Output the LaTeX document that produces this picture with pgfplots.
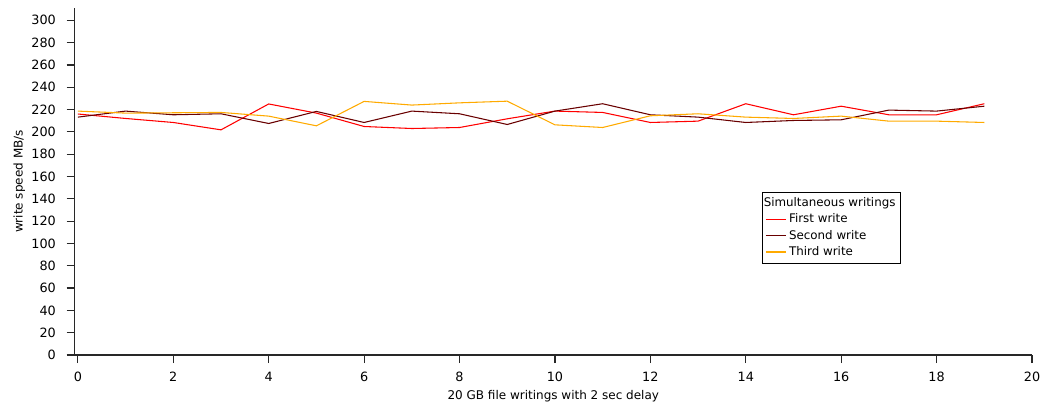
\documentclass[border=0pt]{standalone}
\usepackage{pgfplots}
\pgfplotsset{compat=1.18}
\usepackage{fontspec}
\setmainfont{DejaVu Sans}
\usetikzlibrary{calc}

\definecolor{firstw}{RGB}{255,0,0}
\definecolor{secondw}{RGB}{105,0,0}
\definecolor{thirdw}{RGB}{255,170,0}
\definecolor{axisgray}{RGB}{40,40,40}

\pgfplotstableread{
x first second third
0  216.0 213.2 218.6
1  212.0 218.6 216.8
2  208.4 215.3 217.1
3  201.8 216.2 217.4
4  225.0 207.5 214.1
5  216.8 218.3 205.4
6  204.8 208.4 227.3
7  203.0 218.6 224.0
8  203.9 216.2 226.0
9  211.7 206.6 227.5
10 218.6 218.6 206.3
11 217.4 225.2 203.9
12 208.4 215.3 214.4
13 209.6 213.2 216.2
14 225.2 208.4 213.2
15 215.3 210.2 212.0
16 223.0 210.8 214.1
17 215.3 219.5 209.6
18 215.3 218.6 209.6
19 225.2 223.0 208.4
}\speeds

\begin{document}
\begin{tikzpicture}
\begin{axis}[
  scale only axis,
  width=718.1pt, height=260.25pt,
  xmin=-0.07, xmax=20,
  ymin=0, ymax=311,
  axis x line*=bottom,
  axis y line*=left,
  axis line style={axisgray, line width=0.9pt, -},
  xtick={0,2,...,20},
  ytick={0,20,...,300},
  tick align=outside,
  major tick length=6pt,
  tick style={axisgray, line width=0.9pt},
  /pgf/number format/assume math mode=true,
  ticklabel style={font=\fontsize{9.6pt}{11pt}\selectfont, text=black},
  xticklabel style={yshift=-3pt},
  yticklabel style={xshift=-4.5pt},
  xlabel={20 GB file writings with 2 sec delay},
  ylabel={write speed MB/s},
  label style={font=\fontsize{9pt}{11pt}\selectfont},
  xlabel style={yshift=0pt},
  ylabel style={yshift=-2.2pt},
  legend cell align=left,
  legend style={
    at={(axis cs:14.35,146.4)}, anchor=north west,
    draw=black,
    font=\fontsize{8.9pt}{11pt}\selectfont,
    inner xsep=2pt, inner ysep=2.6pt,
    row sep=1pt,
    nodes={inner sep=1.5pt},
  },
  every legend image post/.style={line width=0.9pt},
  legend image code/.code={\draw[mark repeat=2,mark phase=2]
    plot coordinates {(0cm,0cm) (0.27cm,0cm) (0.54cm,0cm)};},
]
\addlegendimage{empty legend}
\addlegendentry{\hspace*{-19pt}Simultaneous writings}
\addplot[firstw, line width=0.8pt] table[x=x, y=first] {\speeds};
\addlegendentry{First write}
\addplot[secondw, line width=0.8pt] table[x=x, y=second] {\speeds};
\addlegendentry{Second write}
\addplot[thirdw, line width=0.8pt] table[x=x, y=third] {\speeds};
\addlegendentry{Third write}
\end{axis}
\path ($(current axis.south west)+(-55.9pt,-36pt)$) rectangle ($(current axis.north east)+(9.75pt,6pt)$);
\end{tikzpicture}
\end{document}
